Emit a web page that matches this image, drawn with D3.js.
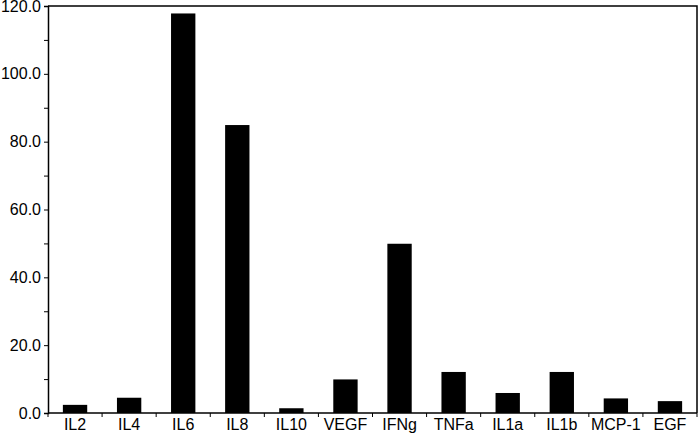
<!DOCTYPE html>
<html>
<head>
<meta charset="utf-8">
<script src="https://cdn.jsdelivr.net/npm/d3@7"></script>
<style>
  body { margin: 0; background: #fff; }
  text { font-family: "Liberation Sans", Arial, sans-serif; }
</style>
</head>
<body>
<div id="chart"></div>
<script>
const cytokines = ["IL2", "IL4", "IL6", "IL8", "IL10", "VEGF", "IFNg", "TNFa", "IL1a", "IL1b", "MCP-1", "EGF"];
const levels = [2.4, 4.5, 117.8, 84.9, 1.4, 9.9, 49.9, 12.1, 5.9, 12.1, 4.3, 3.5];
const majorTicks = [0, 20, 40, 60, 80, 100, 120];
const minorTicks = [10, 30, 50, 70, 90, 110];

const data = cytokines.map((c, i) => ({ name: c, value: levels[i] }));

const width = 700;
const height = 434;
const margin = { top: 6, right: 3, bottom: 21, left: 48 };

const svg = d3.select("#chart")
  .append("svg")
  .attr("width", width)
  .attr("height", height);

const pad = 0.55;
const x = d3.scaleBand()
  .domain(cytokines)
  .range([margin.left, width - margin.right])
  .paddingInner(pad)
  .paddingOuter(pad / 2);

const y = d3.scaleLinear()
  .domain([0, 120])
  .range([height - margin.bottom, margin.top]);

// bars
svg.append("g")
  .selectAll("rect")
  .data(data)
  .join("rect")
  .attr("x", d => x(d.name))
  .attr("y", d => y(d.value))
  .attr("width", x.bandwidth())
  .attr("height", d => y(0) - y(d.value))
  .attr("fill", "#000");

// y axis
const yAxis = svg.append("g")
  .attr("transform", `translate(${margin.left},0)`)
  .call(d3.axisLeft(y).tickValues(majorTicks).tickFormat(d3.format(".1f")).tickSize(4).tickPadding(3));
yAxis.selectAll("text").style("font-size", "16px").attr("fill", "#000");
yAxis.select(".domain").attr("stroke-width", 1.5);

svg.append("g")
  .attr("transform", `translate(${margin.left},0)`)
  .call(d3.axisLeft(y).tickValues(minorTicks).tickFormat("").tickSize(4))
  .select(".domain").remove();

// x axis: ticks sit between categories
const step = x.step();
const bounds = d3.range(cytokines.length + 1).map(i => margin.left + i * step);

const xAxis = svg.append("g")
  .attr("transform", `translate(0,${y(0)})`);
xAxis.append("line")
  .attr("x1", margin.left).attr("x2", width - margin.right)
  .attr("stroke", "#000").attr("stroke-width", 1.5);
xAxis.selectAll(".tk")
  .data(bounds)
  .join("line")
  .attr("class", "tk")
  .attr("x1", d => d).attr("x2", d => d)
  .attr("y1", 0).attr("y2", 4)
  .attr("stroke", "#000");
xAxis.selectAll(".lbl")
  .data(cytokines)
  .join("text")
  .attr("class", "lbl")
  .attr("x", d => x(d) + x.bandwidth() / 2)
  .attr("y", 17)
  .attr("text-anchor", "middle")
  .style("font-size", "16px")
  .text(d => d);

// frame top and right
svg.append("path")
  .attr("d", `M${margin.left},${margin.top}H${width - margin.right}V${y(0)}`)
  .attr("fill", "none")
  .attr("stroke", "#000")
  .attr("stroke-width", 1.5);
</script>
</body>
</html>
